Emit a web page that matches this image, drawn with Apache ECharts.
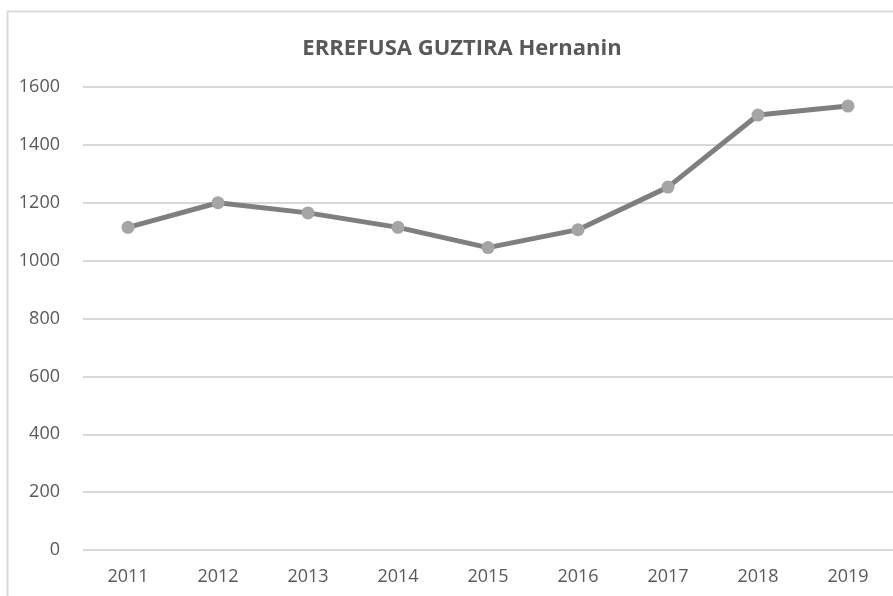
<!DOCTYPE html>
<html>
<head>
<meta charset="utf-8">
<script src="https://cdn.jsdelivr.net/npm/echarts@6/dist/echarts.min.js"></script>
<style>
  html, body { margin: 0; padding: 0; background: #fff; }
  #chart { width: 893px; height: 596px; }
</style>
</head>
<body>
<div id="chart"></div>
<script>
const years = ['2011', '2012', '2013', '2014', '2015', '2016', '2017', '2018', '2019']
const totals = [1115, 1200, 1165, 1115, 1045, 1107, 1254, 1503, 1534]

const chart = echarts.init(document.getElementById('chart'))
chart.setOption({
  backgroundColor: '#fff',
  animation: false,
  title: {
    text: 'ERREFUSA GUZTIRA Hernanin',
    left: 457,
    textAlign: 'center',
    top: 33,
    textStyle: {
      color: '#595959',
      fontFamily: 'Open Sans',
      fontSize: 22,
      fontWeight: 'bold'
    }
  },
  graphic: [
    {
      type: 'rect',
      shape: { x: 7.5, y: 11.5, width: 900, height: 600 },
      style: { fill: 'none', stroke: '#d9d9d9', lineWidth: 2 },
      silent: true
    }
  ],
  grid: {
    left: 83,
    right: 0,
    top: 87,
    bottom: 46
  },
  xAxis: {
    type: 'category',
    data: years,
    boundaryGap: true,
    axisLine: { show: false },
    axisTick: { show: false },
    axisLabel: {
      color: '#595959',
      fontFamily: 'Open Sans',
      fontSize: 18,
      margin: 18
    }
  },
  yAxis: {
    type: 'value',
    min: 0,
    max: 1600,
    interval: 200,
    axisLine: { show: false },
    axisTick: { show: false },
    axisLabel: {
      color: '#595959',
      fontFamily: 'Open Sans',
      fontSize: 18,
      margin: 23,
      formatter: v => String(v)
    },
    splitLine: {
      lineStyle: { color: '#d9d9d9', width: 2 }
    }
  },
  series: [
    {
      type: 'line',
      data: totals,
      symbol: 'circle',
      symbolSize: 13,
      lineStyle: { color: '#7f7f7f', width: 5 },
      itemStyle: { color: '#a5a5a5' }
    }
  ]
})
</script>
</body>
</html>
